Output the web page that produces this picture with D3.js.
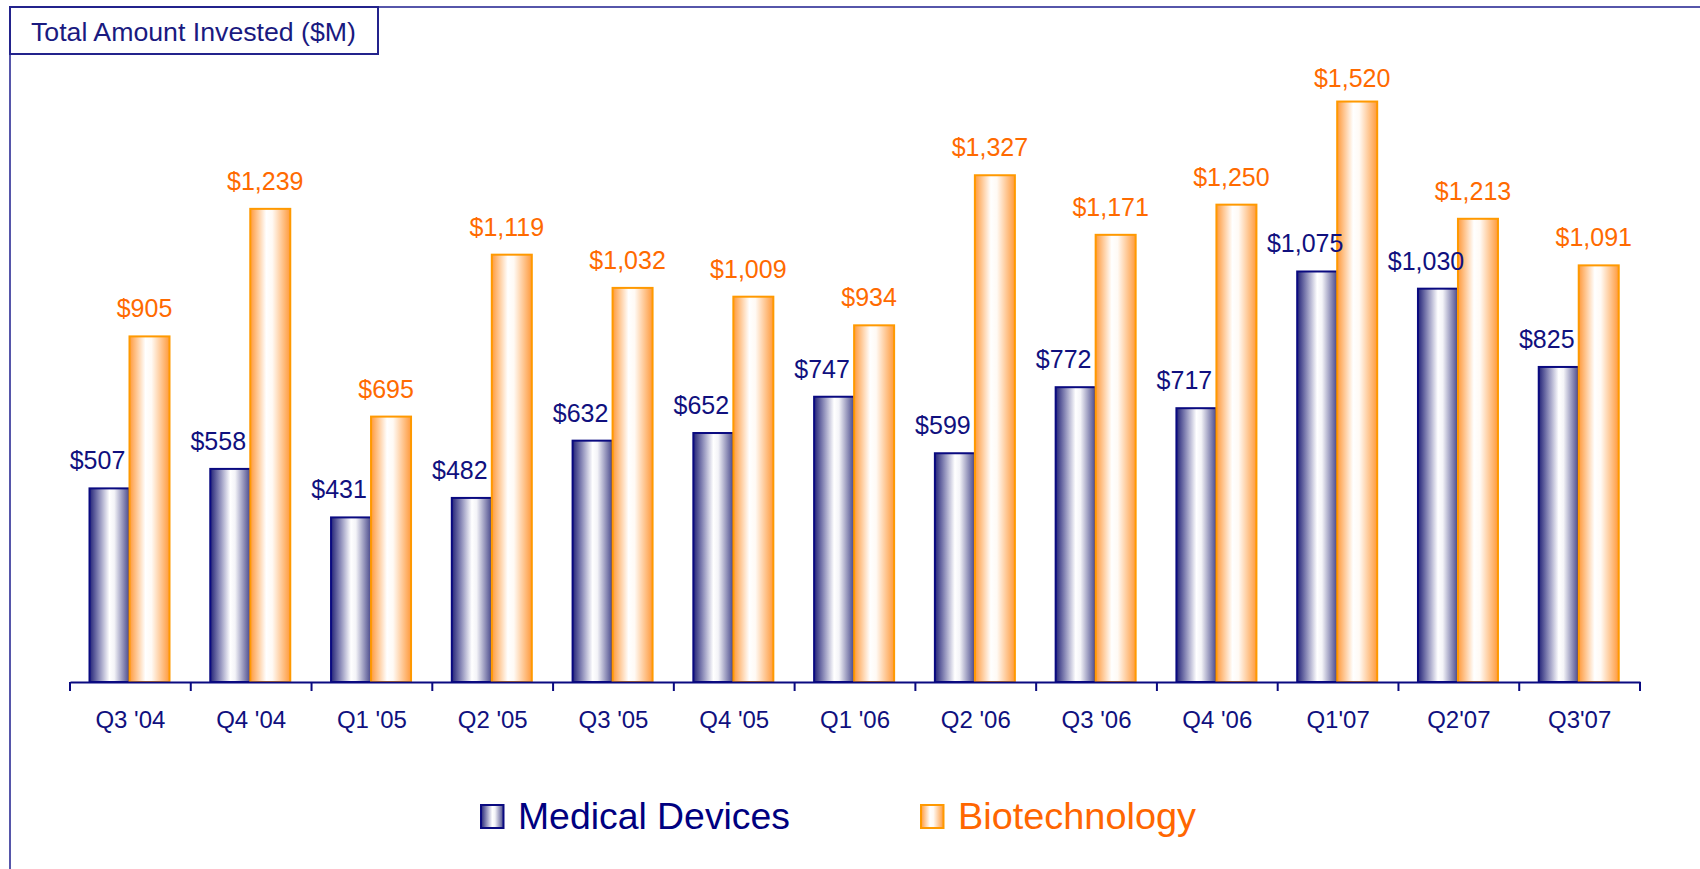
<!DOCTYPE html>
<html>
<head>
<meta charset="utf-8">
<script src="https://cdn.jsdelivr.net/npm/d3@7"></script>
<style>
    html, body { margin: 0; padding: 0; background: #fff; }
    #graph { width: 1700px; height: 869px; }
    text { font-family: "Liberation Sans", Arial, Helvetica, sans-serif; }
</style>
</head>
<body>
<div id="graph"></div>
<script>
var categories = ["Q3 '04", "Q4 '04", "Q1 '05", "Q2 '05", "Q3 '05", "Q4 '05", "Q1 '06",
    "Q2 '06", "Q3 '06", "Q4 '06", "Q1'07", "Q2'07", "Q3'07"];
var medical = [507, 558, 431, 482, 632, 652, 747, 599, 772, 717, 1075, 1030, 825];
var biotech = [905, 1239, 695, 1119, 1032, 1009, 934, 1327, 1171, 1250, 1520, 1213, 1091];
var seriesNames = ["Medical Devices", "Biotechnology"];

init();

function init() {
    var w = 1700, h = 869;
    var vis = d3.select("#graph")
        .append("svg")
        .attr("width", w)
        .attr("height", h);

    var defs = vis.append("defs");
    var blueGrad = defs.append("linearGradient").attr("id", "gradBlue");
    blueGrad.append("stop").attr("offset", "0%").attr("stop-color", "#232378");
    blueGrad.append("stop").attr("offset", "50%").attr("stop-color", "#ffffff");
    blueGrad.append("stop").attr("offset", "62%").attr("stop-color", "#f4f4f8");
    blueGrad.append("stop").attr("offset", "100%").attr("stop-color", "#47478a");
    var orangeGrad = defs.append("linearGradient").attr("id", "gradOrange");
    orangeGrad.append("stop").attr("offset", "0%").attr("stop-color", "#ff9a3c");
    orangeGrad.append("stop").attr("offset", "40%").attr("stop-color", "#ffffff");
    orangeGrad.append("stop").attr("offset", "55%").attr("stop-color", "#fffaf5");
    orangeGrad.append("stop").attr("offset", "100%").attr("stop-color", "#ff9a3c");

    var fills = ["url(#gradBlue)", "url(#gradOrange)"];
    var strokes = ["#0a0a80", "#ff9900"];
    var labelColors = ["#10107e", "#ff6a00"];
    var labelShift = [-12, -5];

    // outer frame
    vis.append("line")
        .attr("x1", 10).attr("y1", 7).attr("x2", w).attr("y2", 7)
        .attr("stroke", "#5656aa").attr("stroke-width", 2);
    vis.append("line")
        .attr("x1", 10).attr("y1", 7).attr("x2", 10).attr("y2", h)
        .attr("stroke", "#5656aa").attr("stroke-width", 2);

    // title box
    vis.append("rect")
        .attr("x", 10).attr("y", 7)
        .attr("width", 368).attr("height", 47)
        .attr("fill", "#fff")
        .attr("stroke", "#23238c")
        .attr("stroke-width", 2);
    vis.append("text")
        .attr("x", 31).attr("y", 41)
        .attr("fill", "#1a1a80")
        .attr("textLength", 325)
        .attr("lengthAdjust", "spacingAndGlyphs")
        .style("font-size", "26.5px")
        .text("Total Amount Invested ($M)");

    var x = d3.scaleBand()
        .domain(categories)
        .range([70, 1640]);
    var xs = d3.scaleBand()
        .domain([0, 1])
        .range([19.5, 99.5]);
    var y = d3.scaleLinear()
        .domain([0, 1600])
        .range([682, 71]);

    var rows = categories.map(function(c, i) {
        return {cat: c, values: [medical[i], biotech[i]]};
    });

    var group = vis.selectAll(".cat")
        .data(rows)
        .enter()
        .append("g")
        .attr("class", "cat")
        .attr("transform", function(d) { return "translate(" + x(d.cat) + ",0)"; });

    group.selectAll("rect")
        .data(function(d) { return d.values; })
        .enter()
        .append("rect")
        .attr("x", function(d, i) { return xs(i); })
        .attr("y", function(d) { return y(d); })
        .attr("width", xs.bandwidth())
        .attr("height", function(d) { return y(0) - y(d); })
        .attr("fill", function(d, i) { return fills[i]; })
        .attr("stroke", function(d, i) { return strokes[i]; })
        .attr("stroke-width", 2);

    group.selectAll("text.val")
        .data(function(d) { return d.values; })
        .enter()
        .append("text")
        .attr("class", "val")
        .attr("x", function(d, i) { return xs(i) + xs.bandwidth() / 2 + labelShift[i]; })
        .attr("y", function(d) { return Math.max(y(d) - 19, 87); })
        .attr("text-anchor", "middle")
        .attr("fill", function(d, i) { return labelColors[i]; })
        .style("font-size", "25px")
        .text(function(d) { return "$" + d3.format(",")(d); });

    // x axis
    var axis = vis.append("g")
        .attr("transform", "translate(0," + y(0) + ")")
        .call(d3.axisBottom(x).tickSize(0).tickPadding(0));
    axis.select(".domain")
        .attr("stroke", "#0a0a80")
        .attr("stroke-width", 2);
    axis.selectAll(".tick text")
        .attr("dy", null)
        .attr("y", 46)
        .attr("fill", "#10107e")
        .style("font-size", "24px")
        .style("font-family", "'Liberation Sans', Arial, sans-serif");

    var bounds = categories.map(function(c) { return x(c); }).concat([x.range()[1]]);
    axis.selectAll(".bound")
        .data(bounds)
        .enter()
        .append("line")
        .attr("class", "bound")
        .attr("x1", function(d) { return d; })
        .attr("x2", function(d) { return d; })
        .attr("y1", 0)
        .attr("y2", 9)
        .attr("stroke", "#0a0a80")
        .attr("stroke-width", 2);

    // legend
    var legendX = [481, 921];
    var legendTextLen = [272, 238];
    var legend = vis.selectAll(".legend")
        .data(seriesNames)
        .enter()
        .append("g")
        .attr("class", "legend");
    legend.append("rect")
        .attr("x", function(d, i) { return legendX[i]; })
        .attr("y", 805)
        .attr("width", 22.5)
        .attr("height", 23)
        .attr("fill", function(d, i) { return fills[i]; })
        .attr("stroke", function(d, i) { return strokes[i]; })
        .attr("stroke-width", 2);
    legend.append("text")
        .attr("x", function(d, i) { return legendX[i] + 37; })
        .attr("y", 829)
        .attr("fill", function(d, i) { return i === 0 ? "#000080" : "#ff6600"; })
        .attr("textLength", function(d, i) { return legendTextLen[i]; })
        .attr("lengthAdjust", "spacingAndGlyphs")
        .style("font-size", "37px")
        .text(function(d) { return d; });
}
</script>
</body>
</html>
